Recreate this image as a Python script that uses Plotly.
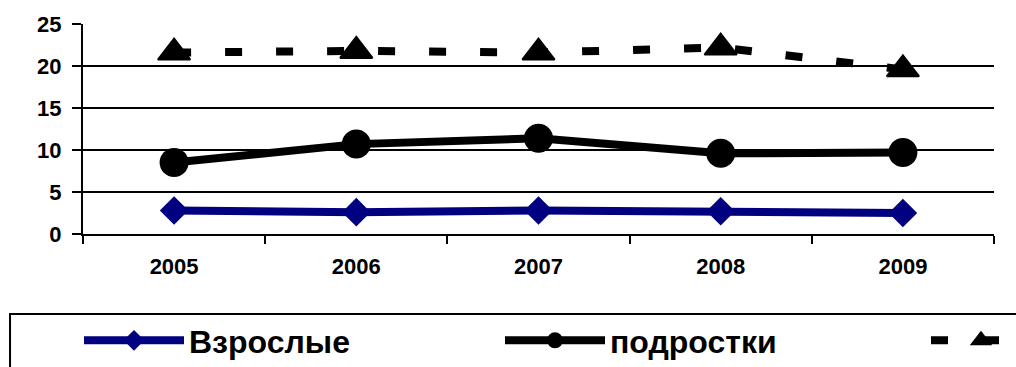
import plotly.graph_objects as go

# Data
years = ["2005", "2006", "2007", "2008", "2009"]
adults = [2.8, 2.6, 2.8, 2.7, 2.5]          # Взрослые
teens = [8.5, 10.7, 11.4, 9.6, 9.7]         # подростки
third = [21.6, 21.8, 21.6, 22.2, 19.6]      # третья серия (подпись скрыта)
y_ticks = [0, 5, 10, 15, 20, 25]

W, H = 1016, 367
FONT = "Liberation Sans, Arial, sans-serif"

fig = go.Figure()

fig.add_trace(go.Scatter(
    x=years, y=adults, name="Взрослые", mode="lines+markers",
    line=dict(color="#000080", width=8),
    marker=dict(symbol="diamond", size=22, color="#000080"),
    legend="legend",
))
fig.add_trace(go.Scatter(
    x=years, y=teens, name="подростки", mode="lines+markers",
    line=dict(color="black", width=8),
    marker=dict(symbol="circle", size=29, color="black"),
    legend="legend",
))
fig.add_trace(go.Scatter(
    x=years, y=third, name="", mode="lines+markers",
    line=dict(color="black", width=8, dash="17px,34px"),
    marker=dict(symbol="triangle-up", size=28, color="black",
                line=dict(color="black", width=2)),
    legend="legend2",
))

# Legend frame (runs off the right and bottom edges)
fig.add_shape(type="rect", xref="paper", yref="paper",
              x0=-0.0801, x1=1.2, y0=-0.75, y1=-0.381,
              line=dict(color="black", width=2), fillcolor="rgba(0,0,0,0)")

legend_common = dict(
    orientation="h", xref="container", yref="container",
    y=1 - 313 / H, xanchor="left", yanchor="top",
    font=dict(family=FONT, size=32, color="black", weight="bold"),
    itemwidth=100, entrywidthmode="pixels",
    bgcolor="rgba(0,0,0,0)", borderwidth=0, traceorder="normal",
    itemsizing="trace",
)

fig.update_layout(
    width=W, height=H,
    margin=dict(l=83, r=22, t=24, b=133),
    paper_bgcolor="white", plot_bgcolor="white",
    font=dict(family=FONT, size=22, color="black", weight="bold"),
    showlegend=True,
    legend=dict(legend_common, x=79 / W, entrywidth=306),
    legend2=dict(legend_common, x=926 / W, entrywidth=10),
    xaxis=dict(
        type="category", showline=True, linecolor="black", linewidth=2,
        ticks="outside", tickson="boundaries", ticklen=8, tickwidth=2,
        tickcolor="black", showgrid=False, ticklabelstandoff=12,
        tickfont=dict(family=FONT, size=22, weight="bold"),
        range=[-0.5, 4.5],
    ),
    yaxis=dict(
        range=[0, 25], tickvals=y_ticks, showline=True, linecolor="black",
        linewidth=2, ticks="outside", ticklen=9, tickwidth=2,
        tickcolor="black", showgrid=True, gridcolor="black", gridwidth=2,
        zeroline=False, ticklabelstandoff=6,
        tickfont=dict(family=FONT, size=22, weight="bold"),
    ),
)

fig.write_html("out.html")
